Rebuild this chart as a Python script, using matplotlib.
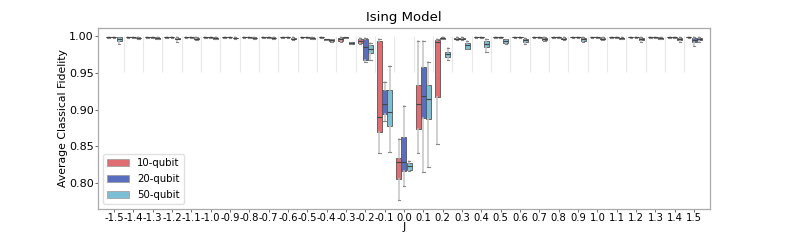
import matplotlib.pyplot as plt
import numpy as np

# J values
J = [round(-1.5 + 0.1 * k, 1) for k in range(31)]
labels = ['%.1f' % j for j in J]
sizes = ['10-qubit', '20-qubit', '50-qubit']
colors = ['#e06d72', '#5a6ebf', '#7bbfd6']

# 10-qubit box stats
med10 = [0.9993] * 11 + [0.9992, 0.996, 0.9945, 0.890, 0.829, 0.908, 0.993, 0.997] + [0.9993] * 12
q1_10 = [0.9990] * 11 + [0.9989, 0.994, 0.991, 0.869, 0.8055, 0.874, 0.917, 0.996] + [0.9990] * 12
q3_10 = [0.9996] * 11 + [0.9995, 0.998, 0.997, 0.994, 0.834, 0.933, 0.995, 0.998] + [0.9996] * 12
lo10 = [0.9985] * 11 + [0.9985, 0.993, 0.990, 0.840, 0.776, 0.841, 0.853, 0.995] + [0.9985] * 12
hi10 = [0.9999] * 11 + [0.9999, 0.999, 0.998, 0.996, 0.860, 0.9945, 0.997, 0.999] + [0.9999] * 12

# 20-qubit box stats
med20 = [0.9993] * 11 + [0.996, 0.999, 0.986, 0.908, 0.828, 0.919, 0.998, 0.997] + [0.9993] * 11 + [0.995]
q1_20 = [0.9990] * 11 + [0.9955, 0.9985, 0.9685, 0.894, 0.8155, 0.8886, 0.997, 0.996] + [0.9990] * 11 + [0.9927]
q3_20 = [0.9996] * 11 + [0.9965, 0.9995, 0.997, 0.9265, 0.863, 0.958, 0.9985, 0.998] + [0.9996] * 11 + [0.998]
lo20 = [0.9985] * 11 + [0.995, 0.998, 0.965, 0.885, 0.796, 0.815, 0.996, 0.995] + [0.9985] * 11 + [0.987]
hi20 = [0.9999] * 11 + [0.997, 0.9999, 0.998, 0.938, 0.9055, 0.9945, 0.999, 0.999] + [0.9999] * 11 + [0.999]

# 50-qubit box stats
med50 = [0.997, 0.998, 0.9975, 0.997, 0.997, 0.998, 0.998, 0.998, 0.998, 0.997, 0.998,
         0.995, 0.991, 0.983, 0.8963, 0.8224, 0.915, 0.9758, 0.988, 0.990, 0.9936,
         0.995, 0.9965, 0.997, 0.996, 0.997, 0.9975, 0.9965, 0.9975, 0.9965, 0.997]
q1_50 = [0.9945, 0.9975, 0.997, 0.996, 0.996, 0.997, 0.9975, 0.9975, 0.9975, 0.996, 0.997,
         0.994, 0.9904, 0.978, 0.8777, 0.8174, 0.8868, 0.9717, 0.983, 0.9853, 0.9913,
         0.9927, 0.995, 0.996, 0.9945, 0.996, 0.997, 0.995, 0.997, 0.995, 0.9955]
q3_50 = [0.999, 0.9985, 0.998, 0.998, 0.998, 0.9985, 0.9985, 0.9985, 0.9985, 0.998, 0.9985,
         0.996, 0.992, 0.9886, 0.927, 0.8265, 0.933, 0.979, 0.9913, 0.9945, 0.9959,
         0.997, 0.998, 0.998, 0.998, 0.998, 0.998, 0.998, 0.998, 0.998, 0.998]
lo50 = [0.990, 0.997, 0.996, 0.9927, 0.995, 0.996, 0.997, 0.997, 0.997, 0.995, 0.996,
        0.993, 0.9895, 0.9676, 0.842, 0.8155, 0.8215, 0.968, 0.9825, 0.9785, 0.9904,
        0.990, 0.994, 0.995, 0.993, 0.995, 0.996, 0.993, 0.996, 0.993, 0.993]
hi50 = [0.9995, 0.9993, 0.999, 0.999, 0.999, 0.9993, 0.9993, 0.9993, 0.9993, 0.999, 0.9993,
        0.997, 0.993, 0.991, 0.9593, 0.830, 0.9653, 0.9836, 0.9945, 0.997, 0.997,
        0.998, 0.999, 0.999, 0.999, 0.999, 0.999, 0.999, 0.999, 0.999, 0.999]

stats_all = [(med10, q1_10, q3_10, lo10, hi10),
             (med20, q1_20, q3_20, lo20, hi20),
             (med50, q1_50, q3_50, lo50, hi50)]

fig = plt.figure(figsize=(7.89, 2.4), dpi=100)
ax = fig.add_axes([0.124, 0.129, 0.776, 0.754])

n = len(J)
pos = np.arange(n)
w = 0.8 / 3
offsets = [-w, 0, w]

# separators between groups
ax.vlines(pos[:-1] + 0.5, 0.951, 1.0, color='#e8e8e8', lw=0.8, zorder=0)

for k, (med, q1, q3, lo, hi) in enumerate(stats_all):
    bstats = []
    for i in range(n):
        bstats.append({'med': med[i], 'q1': q1[i], 'q3': q3[i],
                       'whislo': lo[i], 'whishi': hi[i], 'fliers': []})
    ax.bxp(bstats, positions=pos + offsets[k], widths=w * 0.98, patch_artist=True,
           showfliers=False, manage_ticks=False,
           boxprops=dict(facecolor=colors[k], edgecolor='#555555', linewidth=0.6),
           medianprops=dict(color='#444444', linewidth=0.8),
           whiskerprops=dict(color='#c4c4c4', linewidth=1.1),
           capprops=dict(color='#888888', linewidth=0.8),
           capwidths=w * 0.5)

ax.set_xlim(-0.83, 30.83)
ax.set_ylim(0.764, 1.0115)
ax.set_xticks(pos)
ax.set_xticklabels(labels, fontsize=7.2)
ax.set_yticks([0.80, 0.85, 0.90, 0.95, 1.00])
ax.set_yticklabels(['0.80', '0.85', '0.90', '0.95', '1.00'], fontsize=8)
ax.tick_params(length=2, width=0.6, color='#555555', pad=1)
for s in ax.spines.values():
    s.set_color('#aaaaaa')
    s.set_linewidth(0.9)

ax.set_xlabel('J', fontsize=8, labelpad=-1)
ax.set_ylabel('Average Classical Fidelity', fontsize=7.8, labelpad=1)
ax.set_title('Ising Model', fontsize=9.5, pad=5)

handles = [plt.Rectangle((0, 0), 1, 1, facecolor=c, edgecolor='#999999', lw=0.5) for c in colors]
ax.legend(handles, sizes, loc='lower left', fontsize=7.3, handlelength=2.2,
          framealpha=0.9, edgecolor='#dddddd', labelspacing=0.6)

fig.savefig('out.png', dpi=100)
